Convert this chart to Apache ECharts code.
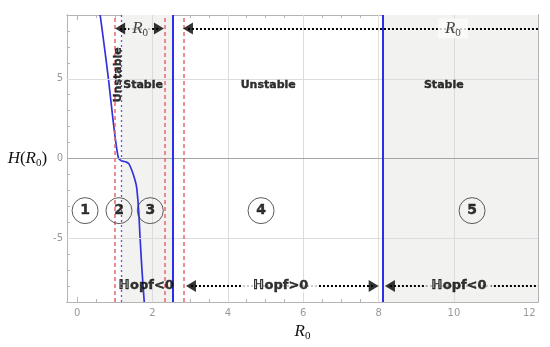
<!DOCTYPE html>
<html>
<head>
<meta charset="utf-8">
<script src="https://cdn.jsdelivr.net/npm/echarts@6/dist/echarts.min.js"></script>
<style>
html, body { margin: 0; padding: 0; background: #fff; }
#chart { width: 550px; height: 347px; }
</style>
</head>
<body>
<div id="chart"></div>
<script>
// H(R0) curve
const curveX = [0.61, 0.70, 0.83, 0.90, 0.98, 1.05, 1.10, 1.16, 1.22, 1.30, 1.37, 1.46, 1.54, 1.58, 1.63, 1.67, 1.72, 1.78]
const curveY = [9, 7.4, 5, 3.5, 1.85, 0.62, 0, -0.12, -0.17, -0.22, -0.32, -0.8, -1.4, -1.85, -3.2, -5, -7, -9]

// vertical markers
const redDashX = [1.01, 2.32, 2.82]
const blueDotX = [1.18]
const blueSolidX = [2.53, 8.12]

// stable (shaded) bands
const bandStart = [1.18, 8.12]
const bandEnd = [2.53, 12.23]

// axis range and ticks
const xMin = -0.27, xMax = 12.23
const yMin = -9, yMax = 9
const xMajor = [0, 2, 4, 6, 8, 10, 12]
const xMinor = [0.5, 1, 1.5, 2.5, 3, 3.5, 4.5, 5, 5.5, 6.5, 7, 7.5, 8.5, 9, 9.5, 10.5, 11, 11.5]
const yMajor = [-5, 0, 5]
const yMinor = [-8, -7, -6, -4, -3, -2, -1, 1, 2, 3, 4, 6, 7, 8]
const xGrid = [2, 4, 6, 8, 10]
const yGrid = [-5, 5]

// numbered regions
const regionX = [0.21, 1.11, 1.94, 4.88, 10.48]
const regionY = [-3.27, -3.27, -3.27, -3.27, -3.27]
const regionName = ['1', '2', '3', '4', '5']

// stability words
const stabX = [1.75, 5.07, 9.73]
const stabY = [4.57, 4.57, 4.57]
const stabText = ['Stable', 'Unstable', 'Stable']
const verticalWordX = 1.09, verticalWordY = 5.25

// arrows: dotted segments [from, to, y], arrow heads
const topRowY = 8.15, bottomRowY = -8
const segFrom = [1.14, 2.94, 3.02, 8.30]
const segTo = [2.17, 12.23, 7.87, 12.23]
const segY = [topRowY, topRowY, bottomRowY, bottomRowY]
const headLeftX = [1.14, 2.94, 3.02, 8.30]
const headLeftY = [topRowY, topRowY, bottomRowY, bottomRowY]
const headRightX = [2.17, 7.87]
const headRightY = [topRowY, bottomRowY]

// arrow captions
const capX = [1.67, 9.97, 5.4, 10.13, 1.83]
const capY = [topRowY, topRowY, bottomRowY, bottomRowY, bottomRowY]
const capText = ['{i|R}{s|0}', '{i|R}{s|0}', 'ℍopf>0', 'ℍopf<0', 'ℍopf<0']

const shade = '#f2f3f1'
const frame = '#b4b4b4'
const capBg = [shade, '#fbfbfa', '#ffffff', shade, 'transparent']
const capPad = [[0, 3], [0, 7], [0, 10], [0, 5], 0]

const serifRich = {
    i: { fontFamily: 'Liberation Serif', fontStyle: 'italic', fontWeight: 'normal', fontSize: 17, lineHeight: 20, color: '#111', textBorderWidth: 0 },
    n: { fontFamily: 'Liberation Serif', fontWeight: 'normal', fontSize: 17, lineHeight: 20, color: '#111', textBorderWidth: 0 },
    s: { fontFamily: 'Liberation Serif', fontWeight: 'normal', fontSize: 11, lineHeight: 20, verticalAlign: 'bottom', padding: [6, 0, 0, 0], color: '#111', textBorderWidth: 0 }
}

// dark label, slight same-colour stroke to make it heavier
const plainLabel = { show: true, position: 'inside', color: '#000', textBorderColor: '#000', textBorderWidth: 0.4 }

function xAxisOf(position, ticks, len, labels) {
    return {
        type: 'value', position: position, min: xMin, max: xMax,
        axisLine: { show: true, onZero: false, lineStyle: { color: frame, width: 1 } },
        axisTick: { show: true, inside: true, length: len, customValues: ticks, lineStyle: { color: frame } },
        axisLabel: labels ? { show: true, customValues: ticks, color: '#999', fontSize: 10, margin: 6, fontFamily: 'DejaVu Sans' } : { show: false },
        splitLine: { show: false }
    }
}

function yAxisOf(position, ticks, len, labels) {
    return {
        type: 'value', position: position, min: yMin, max: yMax,
        axisLine: { show: true, onZero: false, lineStyle: { color: frame, width: 1 } },
        axisTick: { show: true, inside: true, length: len, customValues: ticks, lineStyle: { color: frame } },
        axisLabel: labels ? {
            show: true, customValues: ticks, color: '#999', fontSize: 10, margin: 4, fontFamily: 'DejaVu Sans',
            formatter: v => String(v)
        } : { show: false },
        splitLine: { show: false }
    }
}

const xAxes = [
    xAxisOf('bottom', xMajor, 5, true),
    xAxisOf('bottom', xMinor, 3, false),
    xAxisOf('top', xMajor, 5, false),
    xAxisOf('top', xMinor, 3, false)
]
xAxes[0].name = '{i|R}{s|0}'
xAxes[0].nameLocation = 'middle'
xAxes[0].nameGap = 20
xAxes[0].nameTextStyle = { rich: serifRich }

const yAxes = [
    yAxisOf('left', yMajor, 5, true),
    yAxisOf('right', yMinor, 3, false),
    yAxisOf('right', yMajor, 5, false),
    yAxisOf('left', yMinor, 3, false)
]
yAxes[0].name = '{i|H}{n|(}{i|R}{s|0}{n|)}'
yAxes[0].nameLocation = 'middle'
yAxes[0].nameRotate = 0
yAxes[0].nameGap = 13
yAxes[0].nameTextStyle = { rich: serifRich }

const option = {
    animation: false,
    backgroundColor: '#fff',
    grid: { left: 67, top: 15, right: 12, bottom: 42 },
    xAxis: xAxes,
    yAxis: yAxes,
    series: [
        {
            // shading and grid lines
            type: 'line', data: [], z: 1, silent: true,
            markArea: {
                silent: true,
                itemStyle: { color: shade },
                data: bandStart.map((s, i) => [{ xAxis: s }, { xAxis: bandEnd[i] }])
            },
            markLine: {
                silent: true, symbol: 'none', label: { show: false },
                data: xGrid.map(v => ({ xAxis: v, lineStyle: { color: '#dcdcdc', width: 1, type: 'solid' } }))
                    .concat(yGrid.map(v => ({ yAxis: v, lineStyle: { color: '#dcdcdc', width: 1, type: 'solid' } })))
                    .concat([{ yAxis: 0, lineStyle: { color: '#a5a5a5', width: 1, type: 'solid' } }])
            }
        },
        {
            // vertical markers
            type: 'line', data: [], z: 3, silent: true,
            markLine: {
                silent: true, symbol: 'none', label: { show: false },
                data: redDashX.map(v => ({ xAxis: v, lineStyle: { color: '#e86868', width: 1.5, type: [4, 3] } }))
                    .concat(blueDotX.map(v => ({ xAxis: v, lineStyle: { color: '#5555e6', width: 1.3, type: [2, 3] } })))
                    .concat(blueSolidX.map(v => ({ xAxis: v, lineStyle: { color: '#2e2ee8', width: 2, type: 'solid' } })))
            }
        },
        {
            name: 'H', type: 'line', z: 4,
            data: curveX.map((x, i) => [x, curveY[i]]),
            showSymbol: false, smooth: 0.3,
            lineStyle: { color: '#3333dd', width: 1.7 }
        },
        {
            // dotted arrow shafts
            type: 'line', data: [], z: 5, silent: true,
            markLine: {
                silent: true, symbol: 'none', label: { show: false },
                lineStyle: { color: '#000', width: 2, type: [2, 2] },
                data: segFrom.map((f, i) => [{ coord: [f, segY[i]] }, { coord: [segTo[i], segY[i]] }])
            }
        },
        {
            type: 'scatter', z: 6, silent: true,
            data: headLeftX.map((x, i) => [x, headLeftY[i]]),
            symbol: 'triangle', symbolSize: [12, 10], symbolRotate: 90,
            itemStyle: { color: '#000' }
        },
        {
            type: 'scatter', z: 6, silent: true,
            data: headRightX.map((x, i) => [x, headRightY[i]]),
            symbol: 'triangle', symbolSize: [12, 10], symbolRotate: -90,
            itemStyle: { color: '#000' }
        },
        {
            // arrow captions
            type: 'scatter', z: 7, silent: true, symbolSize: 0,
            data: capX.map((x, i) => ({
                value: [x, capY[i]],
                label: { backgroundColor: capBg[i], padding: capPad[i] }
            })),
            label: Object.assign({}, plainLabel, {
                formatter: p => capText[p.dataIndex],
                fontFamily: 'DejaVu Sans', fontWeight: 'bold', fontSize: 13,
                rich: serifRich
            })
        },
        {
            // stability words
            type: 'scatter', z: 7, silent: true, symbolSize: 0,
            data: stabX.map((x, i) => [x, stabY[i]]).concat([{ value: [verticalWordX, verticalWordY], label: { rotate: 90 } }]),
            label: Object.assign({}, plainLabel, {
                formatter: p => p.dataIndex < stabText.length ? stabText[p.dataIndex] : 'Unstable',
                fontFamily: 'DejaVu Sans', fontWeight: 'bold', fontSize: 11
            })
        },
        {
            // circled region numbers
            type: 'scatter', z: 7, silent: true,
            data: regionX.map((x, i) => [x, regionY[i]]),
            symbol: 'circle', symbolSize: 26,
            itemStyle: { color: 'rgba(0,0,0,0)', borderColor: '#333', borderWidth: 1 },
            label: Object.assign({}, plainLabel, {
                formatter: p => regionName[p.dataIndex],
                fontFamily: 'DejaVu Sans', fontWeight: 'bold', fontSize: 14
            })
        }
    ]
}

const myChart = echarts.init(document.getElementById('chart'))
myChart.setOption(option)
</script>
</body>
</html>
